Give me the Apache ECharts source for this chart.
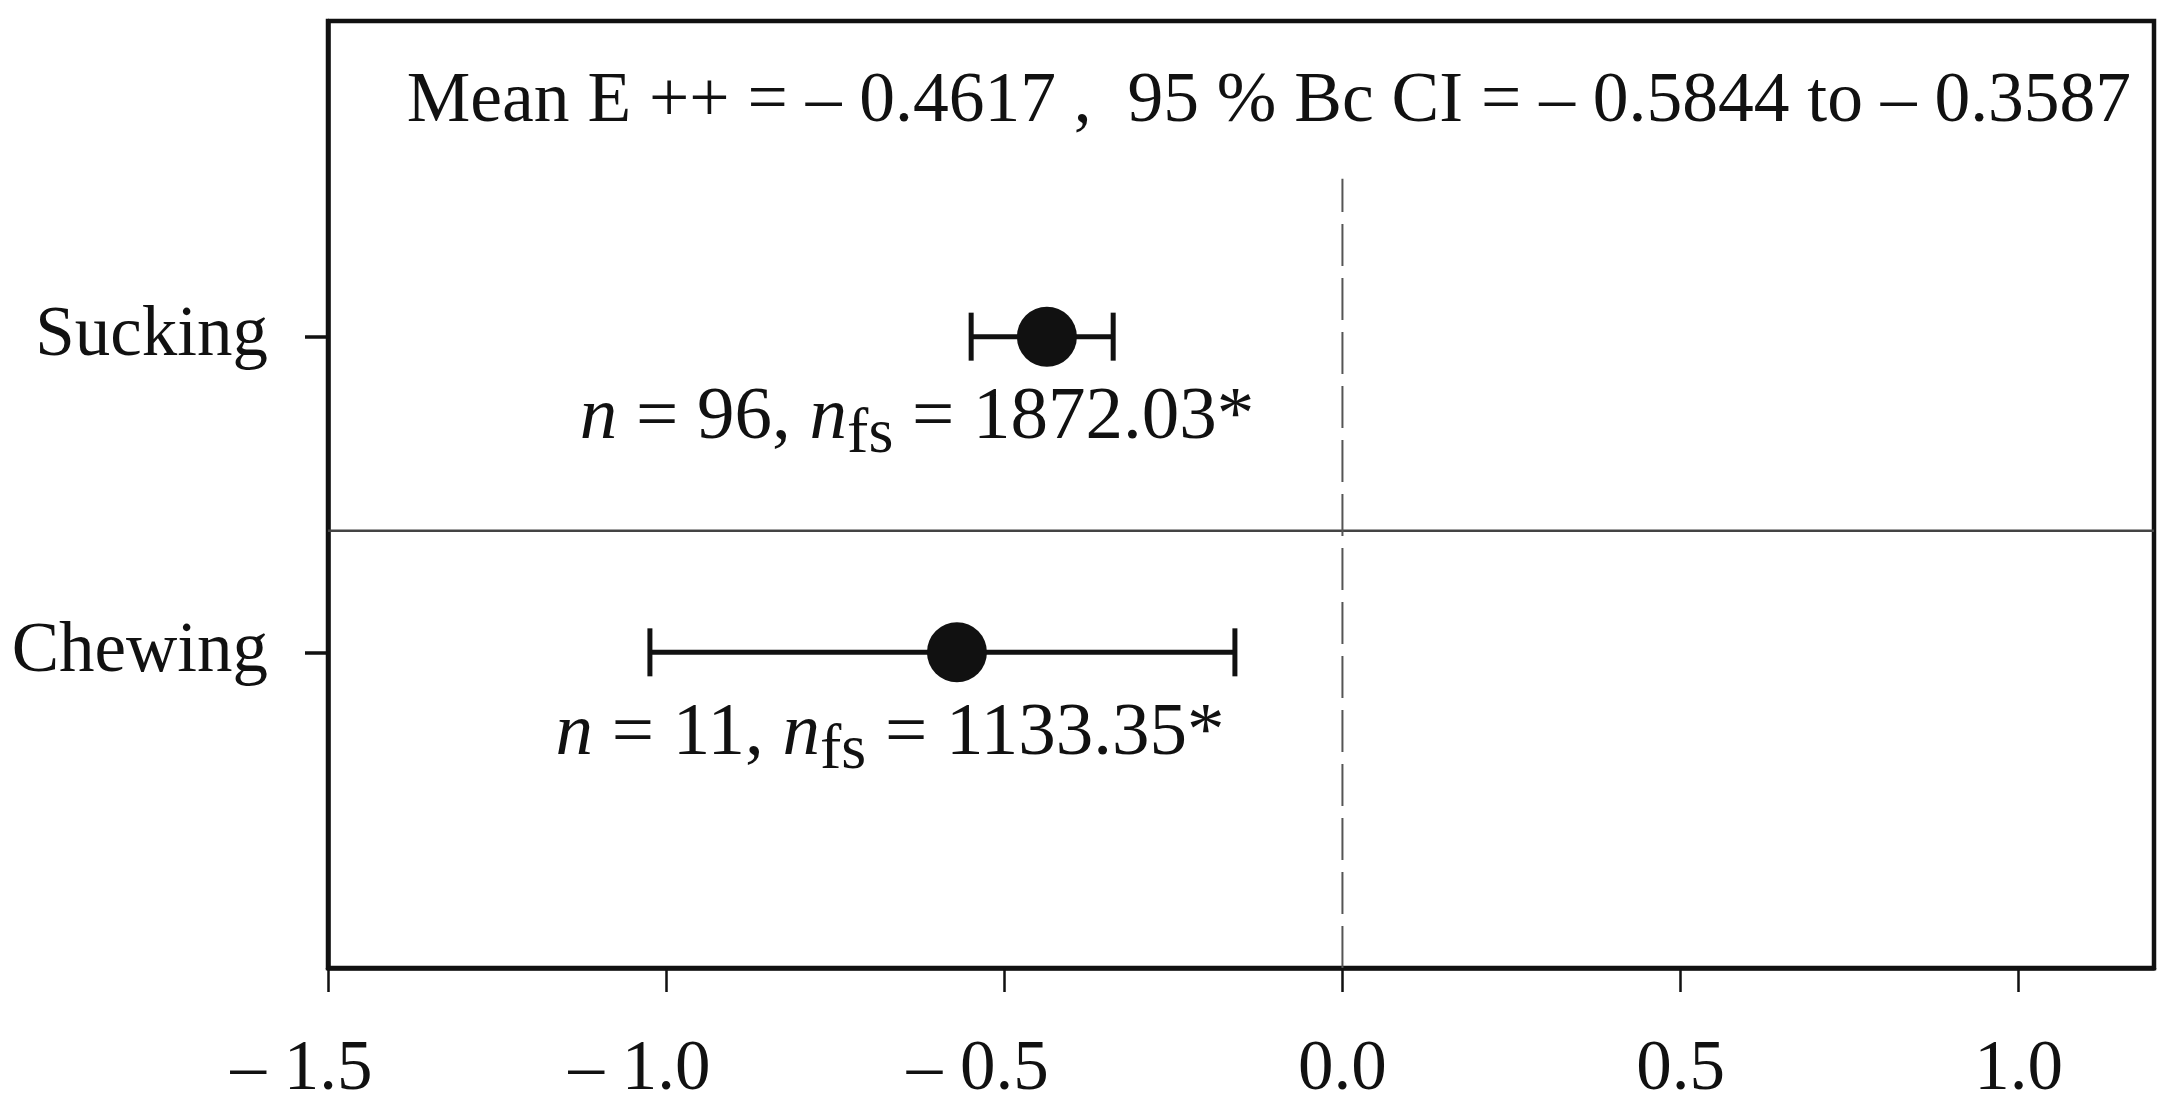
<!DOCTYPE html>
<html><head><meta charset="utf-8">
<script src="https://cdn.jsdelivr.net/npm/echarts@6/dist/echarts.min.js"></script>
<style>html,body{margin:0;padding:0;background:#fff}#c{width:2184px;height:1110px}</style>
</head><body><div id="c"></div>
<script>
// ---- data ----
const categories = ['Chewing', 'Sucking'];
const categoryPos = [1, 2];
const means = [-0.570, -0.437];
const ciLow = [-1.024, -0.549];
const ciHigh = [-0.159, -0.339];
const sampleN = [11, 96];
const failSafeN = ['1133.35', '1872.03'];
const annotX = [-0.669, -0.629];
const annotY = [0.741, 1.742];
const xTicks = [-1.5, -1.0, -0.5, 0.0, 0.5, 1.0];
const yTicks = [1, 2];
const overallMean = -0.4617;
const overallCI = [-0.5844, -0.3587];
const xMin = -1.5, xMax = 1.2, yMin = 0, yMax = 3;
const separatorY = 1.385;
const zeroLineTop = 2.5;

// ---- helpers ----
const FONT = 'Liberation Serif';
function fmt(v, d) {
  return v < 0 ? '\u2013 ' + Math.abs(v).toFixed(d) : v.toFixed(d);
}
function tickFmt(v) {
  if (v < 0) return '{m|\u2013 }' + Math.abs(v).toFixed(1) + '{h|\u2013 }';
  return v.toFixed(1);
}
const titleText = 'Mean E ++ = ' + fmt(overallMean, 4) + ' ,  95 % Bc CI = ' +
  fmt(overallCI[0], 4) + ' to ' + fmt(overallCI[1], 4);

const chart = echarts.init(document.getElementById('c'), null, {renderer: 'canvas'});
const option = {
  animation: false,
  backgroundColor: '#fff',
  grid: {left: 328, right: 30, top: 21, bottom: 142, show: true,
         borderColor: '#111', borderWidth: 4.5, backgroundColor: 'transparent',
         containLabel: false, outerBoundsMode: 'none'},
  graphic: [{
    type: 'text', right: 53, top: 66, z: 10,
    style: {text: titleText, font: '71.5px "' + FONT + '"', fill: '#111'}
  }],
  xAxis: {
    type: 'value', min: xMin, max: xMax, interval: 0.5,
    axisLine: {show: true, onZero: false, lineStyle: {color: '#111', width: 4.5}},
    axisTick: {show: true, length: 24, customValues: xTicks, lineStyle: {color: '#111', width: 2.5}},
    axisLabel: {customValues: xTicks, formatter: tickFmt, fontSize: 71,
                fontFamily: FONT, color: '#111', margin: 67,
                rich: {
                  m: {fontSize: 71, fontFamily: FONT, color: '#111'},
                  h: {fontSize: 71, fontFamily: FONT, color: 'rgba(0,0,0,0)'}
                }},
    splitLine: {show: false}
  },
  yAxis: {
    type: 'value', min: yMin, max: yMax,
    axisLine: {show: true, onZero: false, lineStyle: {color: '#111', width: 4.5}},
    axisTick: {show: true, length: 23, customValues: yTicks, lineStyle: {color: '#111', width: 3.5}},
    axisLabel: {customValues: yTicks, formatter: v => categories[categoryPos.indexOf(v)] || '',
                fontSize: 71, fontFamily: FONT, color: '#111', margin: 60},
    splitLine: {show: false}
  },
  series: [
    {
      type: 'line', symbol: 'none', silent: true, z: 1,
      data: [[xMin, separatorY], [xMax, separatorY]],
      lineStyle: {color: '#444', width: 2.5}
    },
    {
      type: 'line', symbol: 'none', silent: true, z: 1,
      data: [[0, yMin], [0, zeroLineTop]],
      lineStyle: {color: '#555', width: 2, type: [42, 12]}
    },
    {
      type: 'custom', z: 3, silent: true,
      data: categories.map((c, i) => [ciLow[i], ciHigh[i], categoryPos[i]]),
      encode: {x: [0, 1], y: 2},
      renderItem: function (params, api) {
        const lo = api.coord([api.value(0), api.value(2)]);
        const hi = api.coord([api.value(1), api.value(2)]);
        const h = 24;
        const style = {stroke: '#111', lineWidth: 5, fill: null};
        return {type: 'group', children: [
          {type: 'line', shape: {x1: lo[0], y1: lo[1], x2: hi[0], y2: hi[1]}, style: style},
          {type: 'line', shape: {x1: lo[0], y1: lo[1] - h, x2: lo[0], y2: lo[1] + h}, style: style},
          {type: 'line', shape: {x1: hi[0], y1: hi[1] - h, x2: hi[0], y2: hi[1] + h}, style: style}
        ]};
      }
    },
    {
      type: 'scatter', z: 4, silent: true,
      symbol: 'circle', symbolSize: 60,
      itemStyle: {color: '#111', opacity: 1},
      data: categories.map((c, i) => [means[i], categoryPos[i]])
    },
    {
      type: 'scatter', z: 5, silent: true, symbolSize: 0,
      itemStyle: {opacity: 1},
      data: categories.map((c, i) => [annotX[i], annotY[i], sampleN[i], failSafeN[i]]),
      label: {
        show: true, position: 'inside', align: 'center', verticalAlign: 'middle', opacity: 1,
        formatter: p => '{i|n}{r| = ' + p.value[2] + ', }{i|n}{s|fs}{r| = ' + p.value[3] + '*}',
        rich: {
          i: {fontFamily: FONT, fontStyle: 'italic', fontSize: 75, color: '#111'},
          r: {fontFamily: FONT, fontSize: 75, color: '#111'},
          s: {fontFamily: FONT, fontSize: 64, color: '#111', padding: [34, 0, 0, 0]}
        }
      }
    }
  ]
};
chart.setOption(option);
</script>
</body></html>
